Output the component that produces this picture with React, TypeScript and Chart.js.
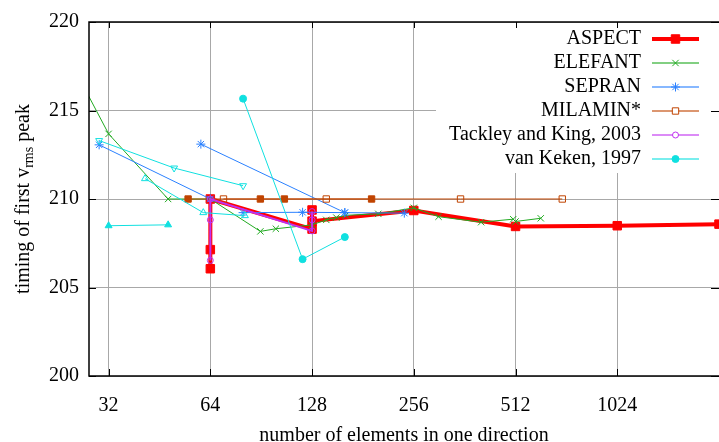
import React, { useEffect, useRef } from 'react';
import { Chart, registerables } from 'chart.js';
import { drawPoint } from 'chart.js/helpers';

Chart.register(...registerables);

const FONT = "'Liberation Serif', 'Times New Roman', Times, serif";

// axis ticks
const xTicks = [32, 64, 128, 256, 512, 1024];
const yTicks = [200, 205, 210, 215, 220];

// ASPECT
const aspectX = [64, 64, 64, 128, 128, 128, 256, 512, 1024, 2048];
const aspectY = [206.06, 207.14, 210.0, 208.3, 209.38, 208.75, 209.35, 208.45, 208.49, 208.58];

// ELEFANT
const elefantX = [24, 32, 48, 64, 90, 100, 128, 141, 151, 161, 201, 256, 303, 405, 504, 512, 608];
const elefantY = [218.2, 213.68, 210.0, 210.0, 208.17, 208.32, 208.54, 208.82, 208.95, 209.08, 209.16, 209.5, 209.0, 208.69, 208.86, 208.73, 208.91];

// SEPRAN (three runs)
const sepranAX = [30, 64];
const sepranAY = [213.06, 210.0];
const sepranBX = [60, 160];
const sepranBY = [213.1, 209.23];
const sepranCX = [80, 120, 160, 240];
const sepranCY = [209.23, 209.25, 209.23, 209.2];

// MILAMIN* (open and filled squares)
const milaminOpenX = [70, 141, 352, 704];
const milaminOpenY = [210.0, 210.0, 210.0, 210.0];
const milaminFilledX = [55, 90, 106, 192];
const milaminFilledY = [210.0, 210.0, 210.0, 210.0];

// Tackley and King, 2003
const tackleyX = [64, 64, 64, 128, 128, 128];
const tackleyY = [206.53, 208.82, 210.0, 208.2, 208.82, 209.29];

// van Keken, 1997 (several runs)
const keckenCircX = [80, 120, 160];
const keckenCircY = [215.67, 206.6, 207.85];
const keckenDownX = [30, 50, 80];
const keckenDownY = [213.3, 211.75, 210.75];
const keckenUpX = [41, 61, 81];
const keckenUpY = [211.15, 209.23, 209.06];
const keckenFillUpX = [32, 48];
const keckenFillUpY = [208.49, 208.54];

const C_ASPECT = '#ff0000';
const C_ELEFANT = '#22aa22';
const C_SEPRAN = '#2a80ff';
const C_MILAMIN = '#c04400';
const C_TACKLEY = '#c030f0';
const C_KEKEN = '#10e0e0';

const pts = (xs: number[], ys: number[]) => xs.map((x, i) => ({ x, y: ys[i] }));

type Legend = { label: string; color: string; width: number; style: string; radius: number; fill: boolean; rotation?: number };

const legendItems: Legend[] = [
  { label: 'ASPECT', color: C_ASPECT, width: 4, style: 'rect', radius: 6, fill: true },
  { label: 'ELEFANT', color: C_ELEFANT, width: 1.5, style: 'crossRot', radius: 4.5, fill: false },
  { label: 'SEPRAN', color: C_SEPRAN, width: 1.5, style: 'star', radius: 4.5, fill: false },
  { label: 'MILAMIN*', color: C_MILAMIN, width: 1.5, style: 'rect', radius: 4.5, fill: false },
  { label: 'Tackley and King, 2003', color: C_TACKLEY, width: 1.5, style: 'circle', radius: 3, fill: false },
  { label: 'van Keken, 1997', color: C_KEKEN, width: 1.5, style: 'circle', radius: 3.5, fill: true },
];

function ds(label: string, xs: number[], ys: number[], color: string, lw: number, style: string, radius: number, fill: boolean, order: number, rotation = 0) {
  return {
    label,
    data: pts(xs, ys),
    showLine: true,
    borderColor: color,
    borderWidth: lw,
    pointStyle: style,
    pointRadius: radius,
    pointRotation: rotation,
    pointBorderWidth: 1,
    pointBorderColor: color,
    pointBackgroundColor: fill ? color : 'rgba(255,255,255,0)',
    backgroundColor: color,
    tension: 0,
    order,
  };
}

const framePlugin = {
  id: 'frame',
  afterDraw(chart: any) {
    const ctx = chart.ctx as CanvasRenderingContext2D;
    const { left, right, top, bottom } = chart.chartArea;
    const xs = chart.scales.x;
    const ys = chart.scales.y;
    ctx.save();

    // legend (opaque key box)
    const boxLeft = right - 283;
    ctx.fillStyle = '#ffffff';
    ctx.fillRect(boxLeft, top + 1, right - boxLeft, 150);
    const textRight = right - 78;
    const lineL = right - 67;
    const lineR = right - 20;
    legendItems.forEach((it, i) => {
      const y = top + 17 + i * 24;
      ctx.fillStyle = '#000';
      ctx.font = `20px ${FONT}`;
      ctx.textAlign = 'right';
      ctx.textBaseline = 'middle';
      ctx.fillText(it.label, textRight, y);
      ctx.strokeStyle = it.color;
      ctx.lineWidth = it.width;
      ctx.globalAlpha = it.width > 2 ? 1 : 0.75;
      ctx.beginPath();
      ctx.moveTo(lineL, y);
      ctx.lineTo(lineR, y);
      ctx.stroke();
      ctx.globalAlpha = 1;
      ctx.lineWidth = 1;
      ctx.fillStyle = it.fill ? it.color : 'rgba(255,255,255,1)';
      drawPoint(ctx, { pointStyle: it.style as any, radius: it.radius, rotation: 0, borderWidth: 1 }, (lineL + lineR) / 2, y);
    });

    // border
    ctx.strokeStyle = '#000';
    ctx.lineWidth = 1.5;
    ctx.strokeRect(left, top, right - left + 2, bottom - top);
    ctx.lineWidth = 1;
    ctx.beginPath();
    xTicks.forEach((v) => {
      const px = Math.round(xs.getPixelForValue(v)) + 0.5;
      ctx.moveTo(px, bottom);
      ctx.lineTo(px, bottom - 7);
      ctx.moveTo(px, top);
      ctx.lineTo(px, top + 6);
    });
    yTicks.forEach((v) => {
      const py = Math.round(ys.getPixelForValue(v)) + 0.5;
      ctx.moveTo(left, py);
      ctx.lineTo(left + 7, py);
      ctx.moveTo(right, py);
      ctx.lineTo(right - 8, py);
    });
    ctx.stroke();

    // axis titles
    ctx.fillStyle = '#000';
    ctx.font = `20px ${FONT}`;
    ctx.textAlign = 'center';
    ctx.textBaseline = 'alphabetic';
    ctx.fillText('number of elements in one direction', (left + right) / 2, 441);

    const part1 = 'timing of first v';
    const sub = 'rms';
    const part2 = ' peak';
    ctx.font = `20px ${FONT}`;
    const w1 = ctx.measureText(part1).width;
    const w3 = ctx.measureText(part2).width;
    ctx.font = `14px ${FONT}`;
    const w2 = ctx.measureText(sub).width;
    const total = w1 + w2 + w3;
    ctx.translate(29, (top + bottom) / 2);
    ctx.rotate(-Math.PI / 2);
    ctx.textAlign = 'left';
    let x0 = -total / 2;
    ctx.font = `20px ${FONT}`;
    ctx.fillText(part1, x0, 0);
    x0 += w1;
    ctx.font = `14px ${FONT}`;
    ctx.fillText(sub, x0, 4);
    x0 += w2;
    ctx.font = `20px ${FONT}`;
    ctx.fillText(part2, x0, 0);
    ctx.restore();
  },
};

export default function App() {
  const ref = useRef<HTMLCanvasElement | null>(null);
  useEffect(() => {
    if (!ref.current) return;
    const chart = new Chart(ref.current, {
      type: 'scatter',
      data: {
        datasets: [
          ds('ASPECT', aspectX, aspectY, C_ASPECT, 4, 'rect', 6, true, 20),
          ds('ELEFANT', elefantX, elefantY, C_ELEFANT, 1, 'crossRot', 4.5, false, 19),
          ds('SEPRAN', sepranAX, sepranAY, C_SEPRAN, 1, 'star', 4.5, false, 18),
          ds('SEPRAN b', sepranBX, sepranBY, C_SEPRAN, 1, 'star', 4.5, false, 17),
          ds('SEPRAN c', sepranCX, sepranCY, C_SEPRAN, 1, 'star', 4.5, false, 16),
          ds('MILAMIN*', milaminOpenX, milaminOpenY, C_MILAMIN, 1, 'rect', 4.5, false, 15),
          ds('MILAMIN filled', milaminFilledX, milaminFilledY, C_MILAMIN, 1, 'rect', 4.5, true, 14),
          ds('Tackley and King, 2003', tackleyX, tackleyY, C_TACKLEY, 2, 'circle', 3, false, 13),
          ds('van Keken, 1997', keckenCircX, keckenCircY, C_KEKEN, 1, 'circle', 3.5, true, 12),
          ds('van Keken down', keckenDownX, keckenDownY, C_KEKEN, 1, 'triangle', 4, false, 11, 180),
          ds('van Keken up', keckenUpX, keckenUpY, C_KEKEN, 1, 'triangle', 4, false, 10),
          ds('van Keken filled up', keckenFillUpX, keckenFillUpY, C_KEKEN, 1, 'triangle', 4, true, 9),
        ] as any,
      },
      options: {
        animation: false,
        responsive: false,
        maintainAspectRatio: false,
        layout: { autoPadding: false, padding: { top: 20, right: 0, left: 0, bottom: 0 } },
        plugins: { legend: { display: false }, tooltip: { enabled: false } },
        scales: {
          x: {
            type: 'logarithmic',
            min: 28,
            max: 2048,
            bounds: 'data',
            afterBuildTicks: (s: any) => {
              s.ticks = xTicks.map((v) => ({ value: v }));
            },
            afterFit: (s: any) => {
              s.height = 66;
            },
            grid: { color: '#a8a8a8', lineWidth: 1, drawTicks: false },
            border: { display: false },
            ticks: {
              color: '#000',
              font: { family: FONT, size: 20 },
              padding: 18,
              maxRotation: 0,
              autoSkip: false,
              callback: (v: any) => String(v),
            },
          },
          y: {
            type: 'linear',
            min: 200,
            max: 220,
            afterBuildTicks: (s: any) => {
              s.ticks = yTicks.map((v) => ({ value: v }));
            },
            afterFit: (s: any) => {
              s.width = 89;
            },
            grid: { color: '#a8a8a8', lineWidth: 1, drawTicks: false },
            border: { display: false },
            ticks: {
              color: '#000',
              font: { family: FONT, size: 20 },
              padding: 10,
              callback: (v: any) => String(v),
            },
          },
        },
      } as any,
      plugins: [framePlugin],
    });
    return () => chart.destroy();
  }, []);
  return (
    <div style={{ position: 'absolute', left: 0, top: 0, width: 719, height: 442, background: '#fff' }}>
      <canvas ref={ref} width={719} height={442} style={{ display: 'block' }} />
    </div>
  );
}
